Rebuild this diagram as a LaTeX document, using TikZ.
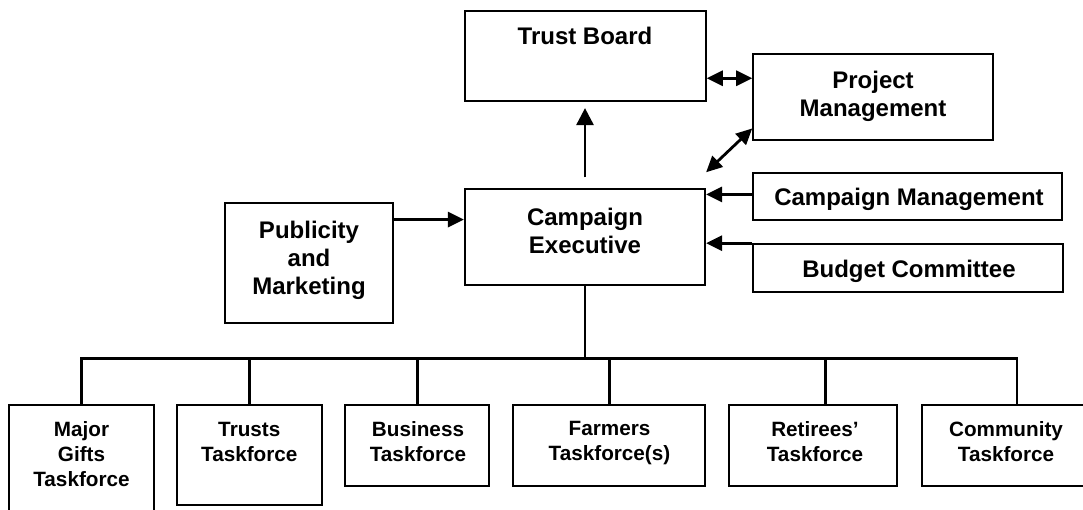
\documentclass[tikz,border=0pt]{standalone}
\usepackage{fontspec}
\setmainfont{Liberation Sans}
\usetikzlibrary{arrows.meta,calc}
\begin{document}
\begin{tikzpicture}[x=1pt,y=-1pt,
  box/.style={draw,line width=2.2pt,inner sep=0pt,rectangle},
  big/.style={font=\fontsize{24}{28}\selectfont\bfseries,align=center,inner sep=0pt},
  small/.style={font=\fontsize{20.7}{25}\selectfont\bfseries,align=center,inner sep=0pt},
  link/.style={line width=2.8pt},
  head/.style={Triangle[length=16pt,width=15pt]},
  arr/.style={link,-{Triangle[length=16pt,width=15pt]}},
  bigarr/.style={link,-{Triangle[length=17pt,width=17pt]}},
  darr/.style={link,{Triangle[length=16pt,width=15pt]}-{Triangle[length=16pt,width=15pt]}},
]
\useasboundingbox (0,0) rectangle (1083,509);
\clip (0,0) rectangle (1083,509);

% upper boxes
\node[box,minimum width=240.7,minimum height=90]   (tb)  at (585.3,56)    {};
\node[box,minimum width=240,minimum height=85.7]   (pm)  at (873.3,97.2)  {};
\node[box,minimum width=240,minimum height=95.7]   (ce)  at (585,237.2)   {};
\node[box,minimum width=168.3,minimum height=120]  (pmk) at (309.2,263.3) {};
\node[box,minimum width=309,minimum height=47.3]   (cm)  at (907.2,196.4) {};
\node[box,minimum width=310.3,minimum height=47.4] (bc)  at (907.9,268)   {};

% taskforce boxes
\node[box,minimum width=144.4,minimum height=124.7] (mg) at (81.5,467.7)  {};
\node[box,minimum width=144.4,minimum height=99.7]  (tr) at (249.5,455.2) {};
\node[box,minimum width=144.3,minimum height=80.4]  (bu) at (417.2,445.5) {};
\node[box,minimum width=191.7,minimum height=80.4]  (fa) at (609.2,445.5) {};
\node[box,minimum width=168,minimum height=80.4]    (re) at (813.3,445.5) {};
\node[box,minimum width=168.3,minimum height=80.4]  (co) at (1005.9,445.5) {};

% labels
\node[big]   (tb-t)  at (585,36.3)   {Trust Board};
\node[big]   (pm-t)  at (873,96)     {Project\\Management};
\node[big]   (ce-t)  at (585,230.5)  {Campaign\\Executive};
\node[big]   (pmk-t) at (309,260)    {Publicity\\and\\Marketing};
\node[big]   (cm-t)  at (909,199.5)  {Campaign Management};
\node[big]   (bc-t)  at (909,271)    {Budget Committee};
\node[small] (mg-t)  at (81.5,454.3) {Major\\Gifts\\Taskforce};
\node[small] (tr-t)  at (249.3,441.6) {Trusts\\Taskforce};
\node[small] (bu-t)  at (418,441.6)  {Business\\Taskforce};
\node[small] (fa-t)  at (609.5,443)  {Farmers\\Taskforce(s)};
\node[small] (re-t)  at (815,441.6)  {Retirees’\\Taskforce};
\node[small] (co-t)  at (1006,441.6) {Community\\Taskforce};

% reporting arrows
\draw[bigarr] ($(ce.north)+(0,-11)$) -- ($(ce.north |- tb.south)+(0,6)$);
\coordinate (pmL) at ($(pm.north west)+(0,25)$);
\draw[darr] (tb.east |- pmL) -- (pmL);
\draw[darr] ($(ce.north east)+(0,-16)$) -- ($(pm.south west)+(0,-12.7)$);
\coordinate (cmL) at ($(cm.west)+(0,-2)$);
\draw[arr] (cmL) -- (cmL -| ce.east);
\draw[arr] (bc.north west) -- (bc.north west -| ce.east);
\coordinate (pmkR) at ($(pmk.north east)+(0,17.4)$);
\draw[arr] (pmkR) -- (pmkR -| ce.west);

% taskforce tree
\coordinate (bus) at ($(ce.south)+(0,72.3)$);
\coordinate (re-top) at ($(re.north)+(12,0)$);
\coordinate (co-top) at ($(co.north)+(11,0)$);
\draw[link] (ce.south) -- (bus);
\draw[link] (mg.north) -- (mg.north |- bus) -- (co-top |- bus) -- (co-top);
\foreach \n in {tr.north,bu.north,fa.north,re-top}
  \draw[link] (\n |- bus) -- (\n);
\end{tikzpicture}
\end{document}
